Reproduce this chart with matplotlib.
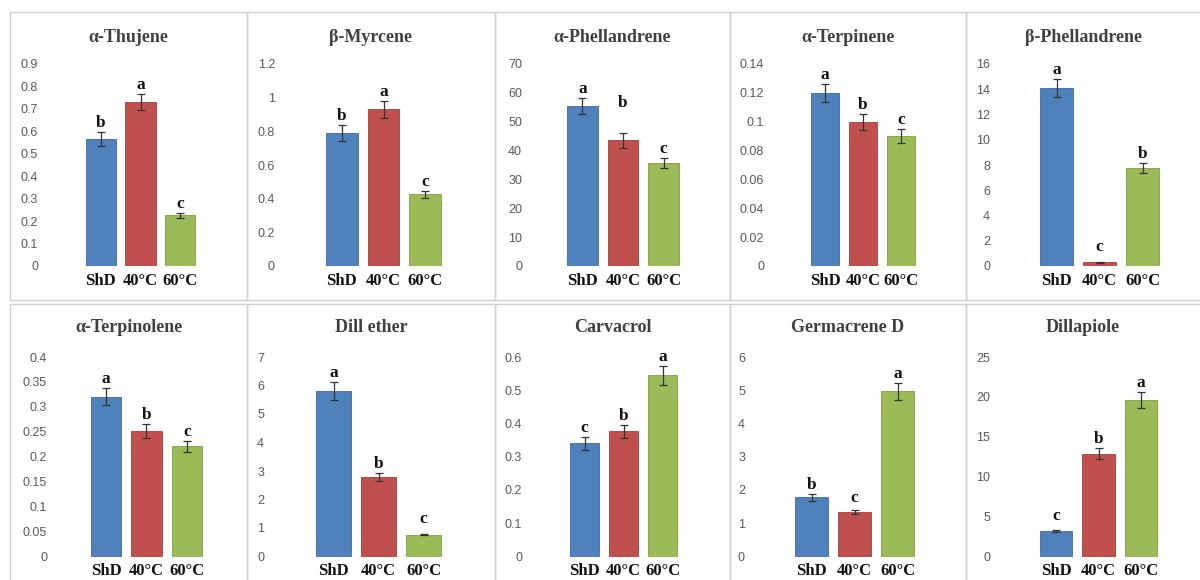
#!/usr/bin/env python3

import numpy as np
import matplotlib
matplotlib.use('Agg')
import matplotlib.pyplot as plt
from matplotlib.patches import Rectangle

# values
compounds = ['α-Thujene', 'β-Myrcene', 'α-Phellandrene', 'α-Terpinene', 'β-Phellandrene',
             'α-Terpinolene', 'Dill ether', 'Carvacrol', 'Germacrene D', 'Dillapiole']
methods = ['ShD', '40°C', '60°C']
shd = [0.565, 0.79, 55.5, 0.12, 14.1, 0.32, 5.8, 0.34, 1.78, 3.2]
dry40 = [0.73, 0.93, 43.5, 0.10, 0.3, 0.252, 2.8, 0.376, 1.33, 12.9]
dry60 = [0.225, 0.426, 35.7, 0.09, 7.75, 0.221, 0.77, 0.545, 4.97, 19.6]
shd_err = [0.03, 0.045, 2.8, 0.006, 0.7, 0.017, 0.32, 0.02, 0.1, 0.1]
dry40_err = [0.035, 0.048, 2.6, 0.0055, 0.05, 0.014, 0.14, 0.02, 0.06, 0.65]
dry60_err = [0.013, 0.02, 1.8, 0.005, 0.4, 0.011, 0.03, 0.028, 0.26, 1.0]
letters_shd = ['b', 'b', 'a', 'a', 'a', 'a', 'a', 'c', 'b', 'c']
letters_40 = ['a', 'a', 'b', 'b', 'c', 'b', 'b', 'b', 'c', 'b']
letters_60 = ['c', 'c', 'c', 'c', 'b', 'c', 'c', 'a', 'a', 'a']
ymax = [0.9, 1.2, 70, 0.14, 16, 0.4, 7, 0.6, 6, 25]
ystep = [0.1, 0.2, 10, 0.02, 2, 0.05, 1, 0.1, 1, 5]

colors = ['#4F81BD', '#C0504D', '#9BBB59']
edges = ['#3E6A9E', '#A23F3C', '#80A040']

# layout in pixels
W, H = 1200, 580
box_x = [(10, 247), (247, 495), (495, 730), (730, 966), (966, 1210)]
box_y = [(12, 300), (304, 590)]
axis_y = [(64, 266), (357, 556.5)]   # (top tick, zero) per row
title_y = [37, 327]
# (axes left, axes right, tick label right edge)
plot_x = [(81, 200, 38), (321, 446, 275), (562, 684, 522), (806, 920, 764), (1035, 1164, 990),
          (86, 207, 47), (311, 446, 264), (565, 682, 522), (790, 919, 745), (1035, 1162, 990)]
extra_lift = {(2, 1): 15, (4, 1): 4, (6, 2): 4, (9, 0): 4, (8, 1): 2}

PX = 72.0 / 100  # points per pixel

fig = plt.figure(figsize=(12, 5.8), dpi=100)
fig.patch.set_facecolor('white')

# panel frames
for r in range(2):
    for c in range(5):
        x0, x1 = box_x[c]
        y0, y1 = box_y[r]
        fig.add_artist(Rectangle((x0 / W, 1 - y1 / H), (x1 - x0) / W, (y1 - y0) / H,
                                 transform=fig.transFigure, fill=False,
                                 edgecolor='#D0D0D0', linewidth=1.0))

for i, name in enumerate(compounds):
    r, c = divmod(i, 5)
    left, right, lab_right = plot_x[i]
    ytop, yzero = axis_y[r]
    ax = fig.add_axes([left / W, 1 - yzero / H, (right - left) / W, (yzero - ytop) / H])
    ax.set_facecolor('none')

    vals = [shd[i], dry40[i], dry60[i]]
    errs = [shd_err[i], dry40_err[i], dry60_err[i]]
    lets = [letters_shd[i], letters_40[i], letters_60[i]]
    x = np.arange(3)
    ax.bar(x, vals, width=0.76, color=colors, edgecolor=edges, linewidth=0.6, zorder=2)
    ax.errorbar(x, vals, yerr=errs, fmt='none', ecolor='#333333', elinewidth=0.9,
                capsize=3, capthick=0.9, zorder=3)
    for k in range(3):
        ax.annotate(lets[k], (x[k], vals[k] + errs[k]),
                    xytext=(0, 6.5 + extra_lift.get((i, k), 0)), textcoords='offset points',
                    ha='center', va='center', fontsize=12.5, fontweight='bold',
                    family='Liberation Serif', color='#111111', zorder=4)

    ticks = [round(k * ystep[i], 6) for k in range(int(round(ymax[i] / ystep[i])) + 1)]
    ax.set_ylim(0, ymax[i])
    ax.set_xlim(-0.5, 2.5)
    ax.set_yticks(ticks)
    ax.set_yticklabels(['{:g}'.format(t) for t in ticks], family='Liberation Sans',
                       fontsize=9, color='#595959')
    ax.set_xticks(x)
    ax.set_xticklabels(methods, family='Liberation Serif', fontsize=12,
                       fontweight='bold', color='#111111')
    ax.tick_params(axis='y', length=0, pad=(left - lab_right) * PX)
    ax.tick_params(axis='x', length=0, pad=5)
    for s in ax.spines.values():
        s.set_visible(False)

    bx0, bx1 = box_x[c]
    if c == 4:
        bx1 = 1200
    fig.text((bx0 + bx1) / 2 / W, 1 - title_y[r] / H, name, ha='center', va='center',
             family='Liberation Serif', fontsize=13, fontweight='bold', color='#404040')

plt.savefig('out.png', dpi=100, facecolor='white')
